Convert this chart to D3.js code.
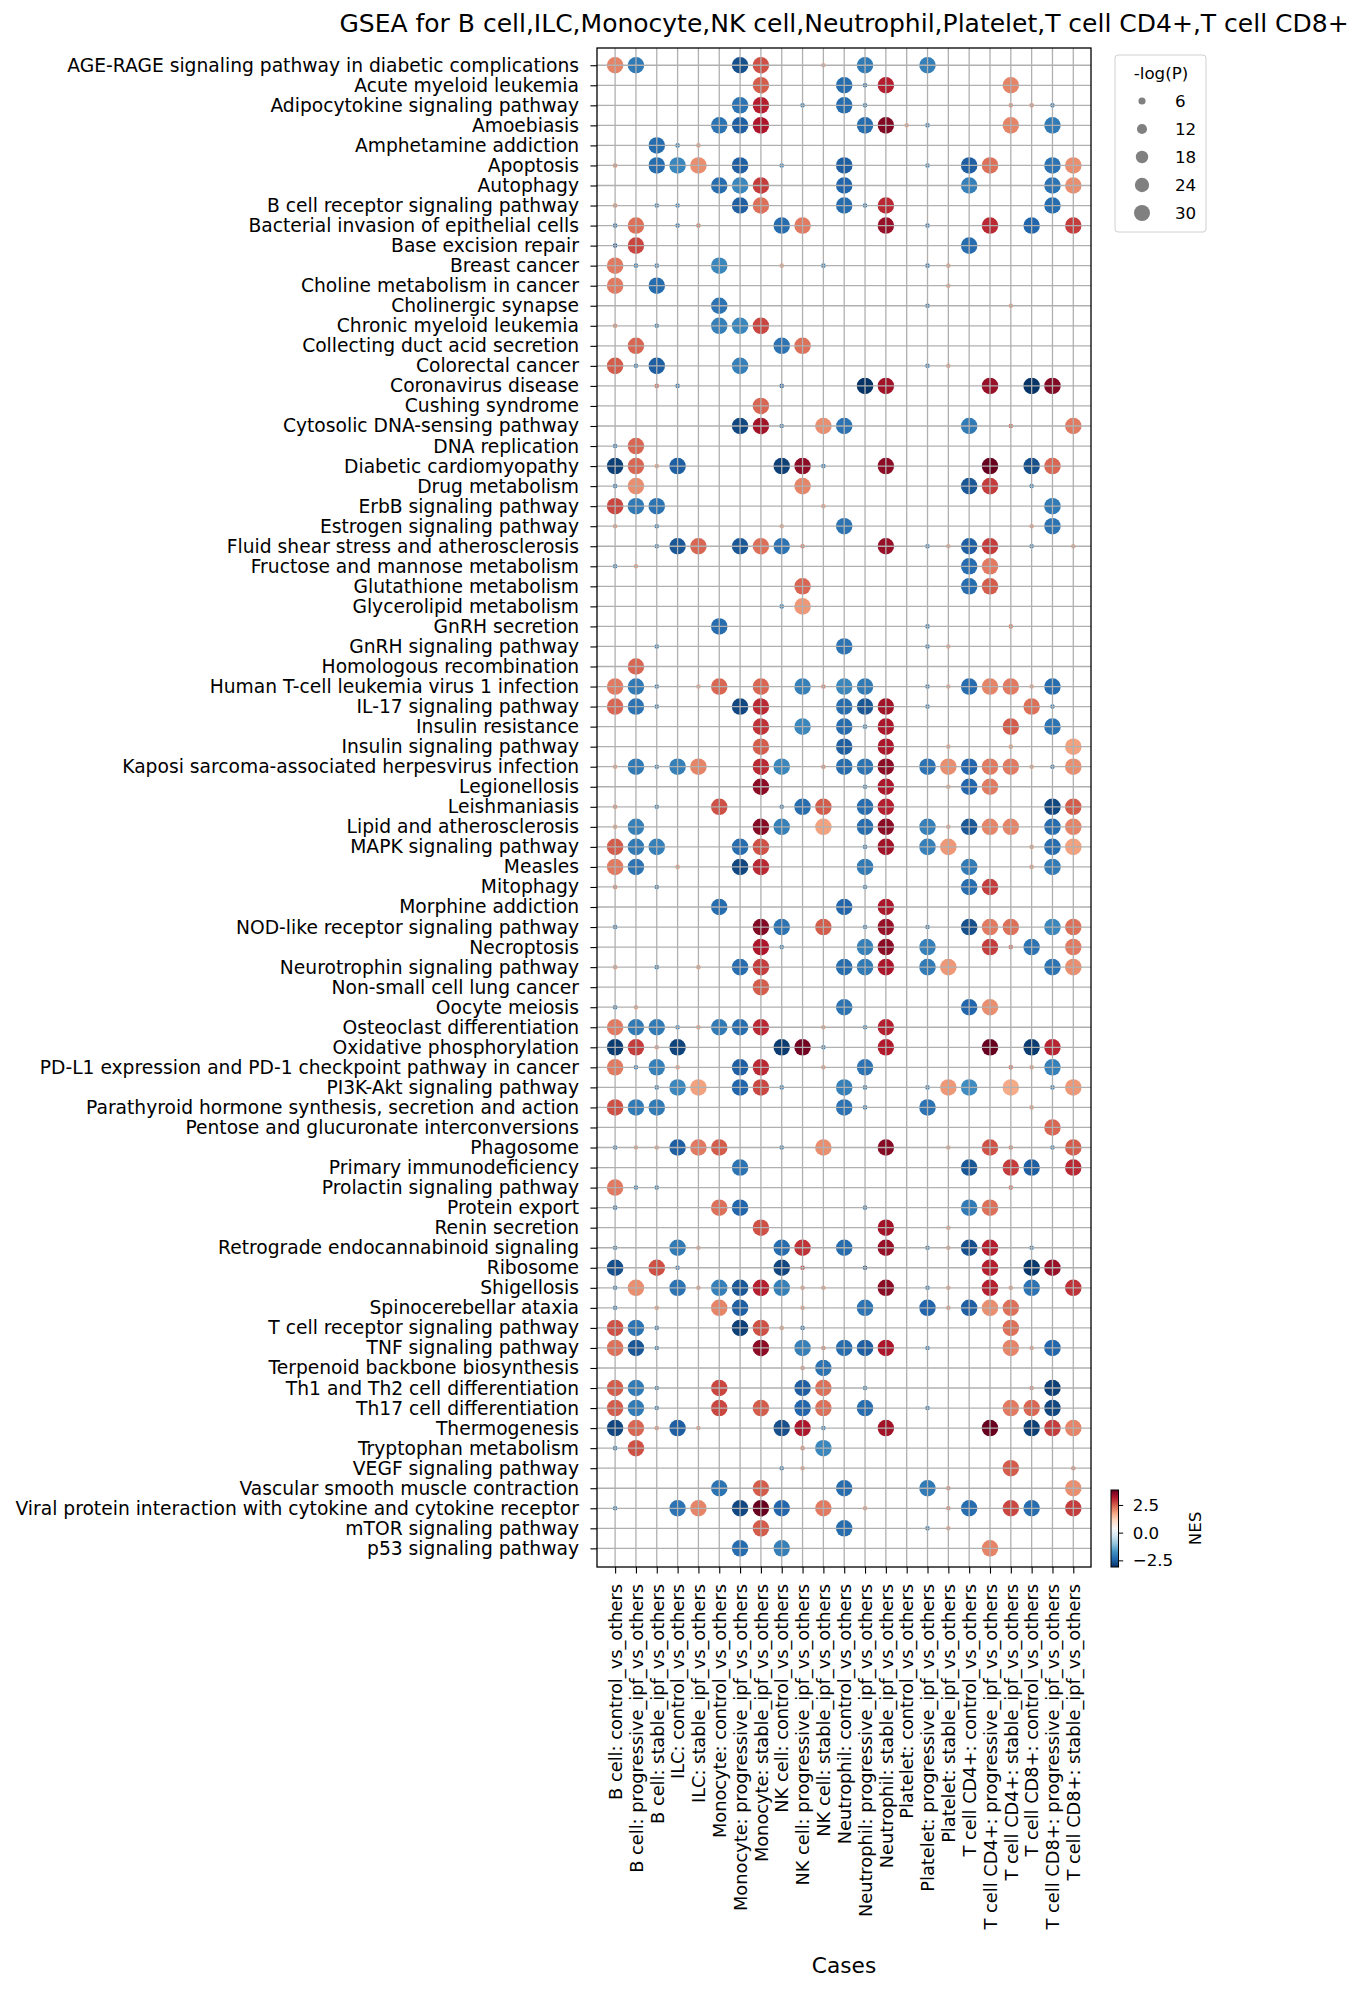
<!DOCTYPE html>
<html>
<head>
<meta charset="utf-8">
<script src="https://cdn.jsdelivr.net/npm/d3@7"></script>
<style>
  body { margin: 0; background: #fff; }
  text { font-family: "DejaVu Sans", sans-serif; fill: #000; }
</style>
</head>
<body>
<div id="chart"></div>
<script>
// row categories (top to bottom)
const pathways = [
  "AGE-RAGE signaling pathway in diabetic complications", "Acute myeloid leukemia",
  "Adipocytokine signaling pathway", "Amoebiasis", "Amphetamine addiction", "Apoptosis",
  "Autophagy", "B cell receptor signaling pathway", "Bacterial invasion of epithelial cells",
  "Base excision repair", "Breast cancer", "Choline metabolism in cancer", "Cholinergic synapse",
  "Chronic myeloid leukemia", "Collecting duct acid secretion", "Colorectal cancer",
  "Coronavirus disease", "Cushing syndrome", "Cytosolic DNA-sensing pathway", "DNA replication",
  "Diabetic cardiomyopathy", "Drug metabolism", "ErbB signaling pathway", "Estrogen signaling pathway",
  "Fluid shear stress and atherosclerosis", "Fructose and mannose metabolism",
  "Glutathione metabolism", "Glycerolipid metabolism", "GnRH secretion", "GnRH signaling pathway",
  "Homologous recombination", "Human T-cell leukemia virus 1 infection", "IL-17 signaling pathway",
  "Insulin resistance", "Insulin signaling pathway", "Kaposi sarcoma-associated herpesvirus infection",
  "Legionellosis", "Leishmaniasis", "Lipid and atherosclerosis", "MAPK signaling pathway", "Measles",
  "Mitophagy", "Morphine addiction", "NOD-like receptor signaling pathway", "Necroptosis",
  "Neurotrophin signaling pathway", "Non-small cell lung cancer", "Oocyte meiosis",
  "Osteoclast differentiation", "Oxidative phosphorylation",
  "PD-L1 expression and PD-1 checkpoint pathway in cancer", "PI3K-Akt signaling pathway",
  "Parathyroid hormone synthesis, secretion and action", "Pentose and glucuronate interconversions",
  "Phagosome", "Primary immunodeficiency", "Prolactin signaling pathway", "Protein export",
  "Renin secretion", "Retrograde endocannabinoid signaling", "Ribosome", "Shigellosis",
  "Spinocerebellar ataxia", "T cell receptor signaling pathway", "TNF signaling pathway",
  "Terpenoid backbone biosynthesis", "Th1 and Th2 cell differentiation", "Th17 cell differentiation",
  "Thermogenesis", "Tryptophan metabolism", "VEGF signaling pathway",
  "Vascular smooth muscle contraction",
  "Viral protein interaction with cytokine and cytokine receptor", "mTOR signaling pathway",
  "p53 signaling pathway"
];

// column categories (left to right)
const cases = [
  "B cell: control_vs_others", "B cell: progressive_ipf_vs_others", "B cell: stable_ipf_vs_others",
  "ILC: control_vs_others", "ILC: stable_ipf_vs_others", "Monocyte: control_vs_others",
  "Monocyte: progressive_ipf_vs_others", "Monocyte: stable_ipf_vs_others", "NK cell: control_vs_others",
  "NK cell: progressive_ipf_vs_others", "NK cell: stable_ipf_vs_others", "Neutrophil: control_vs_others",
  "Neutrophil: progressive_ipf_vs_others", "Neutrophil: stable_ipf_vs_others",
  "Platelet: control_vs_others", "Platelet: progressive_ipf_vs_others", "Platelet: stable_ipf_vs_others",
  "T cell CD4+: control_vs_others", "T cell CD4+: progressive_ipf_vs_others",
  "T cell CD4+: stable_ipf_vs_others", "T cell CD8+: control_vs_others",
  "T cell CD8+: progressive_ipf_vs_others", "T cell CD8+: stable_ipf_vs_others"
];

// per pathway: [case number (1-based), NES, -log(P)]
const gseaRows = [
  [[1,2.1,32],[2,-2.1,32],[7,-2.7,32],[8,2.6,32],[11,1.7,2.5],[13,-2.1,32],[16,-2.0,32]],
  [[8,2.5,32],[12,-2.3,32],[13,-2.2,2.5],[14,3.1,32],[20,2.1,32]],
  [[7,-2.2,32],[8,3.1,32],[10,-2.0,2.5],[12,-2.3,32],[13,-1.9,2.5],[20,2.0,2.5],[21,2.0,2.5],[22,-2.1,2.5]],
  [[6,-2.2,32],[7,-2.5,32],[8,3.2,32],[13,-2.3,32],[14,3.6,32],[15,1.7,2.5],[16,-2.1,2.5],[20,2.1,32],[22,-2.1,32]],
  [[3,-2.3,32],[4,-2.0,2.5],[5,1.8,2.5]],
  [[1,2.0,2.5],[3,-2.3,32],[4,-1.9,32],[5,2.0,32],[7,-2.5,32],[9,-1.9,2.5],[12,-2.5,32],[16,-1.9,2.5],[18,-2.5,32],[19,2.3,32],[22,-2.2,32],[23,2.0,32]],
  [[6,-2.3,32],[7,-1.9,32],[8,2.8,32],[12,-2.4,32],[18,-2.0,32],[22,-2.2,32],[23,2.0,32]],
  [[1,2.0,2.5],[3,-2.0,2.5],[4,-1.9,2.5],[7,-2.5,32],[8,2.3,32],[12,-2.3,32],[13,-2.0,2.5],[14,3.0,32],[22,-2.3,32]],
  [[1,-2.2,2.5],[2,2.3,32],[4,-2.1,2.5],[5,2.2,2.5],[9,-2.3,32],[10,2.2,32],[14,3.4,32],[16,-2.1,2.5],[19,3.0,32],[21,-2.4,32],[23,2.8,32]],
  [[1,-2.5,2.5],[2,2.7,32],[18,-2.3,32]],
  [[1,2.2,32],[2,-2.0,2.5],[3,-2.0,2.5],[6,-1.9,32],[9,1.7,2.5],[11,-1.9,2.5],[16,-2.1,2.5],[17,1.7,2.5]],
  [[1,2.2,32],[3,-2.3,32],[17,1.7,2.5]],
  [[6,-2.2,32],[16,-2.1,2.5],[20,1.8,2.5]],
  [[1,2.0,2.5],[3,-2.0,2.5],[6,-2.0,32],[7,-1.9,32],[8,2.7,32]],
  [[2,2.4,32],[9,-2.2,32],[10,2.3,32]],
  [[1,2.5,32],[2,-2.0,2.5],[3,-2.5,32],[7,-2.0,32],[16,-2.0,2.5],[17,1.7,2.5]],
  [[3,2.3,2.5],[4,-2.1,2.5],[9,-2.4,2.5],[13,-3.05,32],[14,3.3,32],[19,3.4,32],[21,-3.05,32],[22,3.6,32]],
  [[8,2.4,32]],
  [[7,-2.8,32],[8,3.3,32],[9,-2.1,2.5],[11,2.0,32],[12,-2.2,32],[18,-2.1,32],[20,2.4,2.5],[23,2.2,32]],
  [[1,-2.1,2.5],[2,2.4,32]],
  [[1,-2.9,32],[2,2.4,32],[3,1.8,2.5],[4,-2.5,32],[9,-2.9,32],[10,3.5,32],[11,-2.0,2.5],[14,3.5,32],[19,3.85,32],[21,-2.7,32],[22,2.4,32]],
  [[1,-2.1,2.5],[2,2.0,32],[10,2.1,32],[18,-2.6,32],[19,2.8,32],[21,-2.0,2.5]],
  [[1,2.7,32],[2,-2.1,32],[3,-2.2,32],[11,1.7,2.5],[22,-2.1,32]],
  [[1,1.8,2.5],[3,-2.0,2.5],[9,1.7,2.5],[12,-2.2,32],[21,1.8,2.5],[22,-2.2,32]],
  [[3,-2.0,2.5],[4,-2.6,32],[5,2.4,32],[7,-2.6,32],[8,2.3,32],[9,-2.2,32],[10,2.2,2.5],[14,3.4,32],[16,-2.0,2.5],[17,1.7,2.5],[18,-2.5,32],[19,2.8,32],[21,-2.0,2.5],[23,1.8,2.5]],
  [[1,-2.0,2.5],[2,1.8,2.5],[18,-2.3,32],[19,2.2,32]],
  [[10,2.4,32],[18,-2.3,32],[19,2.5,32]],
  [[9,-2.0,2.5],[10,1.9,32]],
  [[6,-2.3,32],[16,-2.0,2.5],[20,2.1,2.5]],
  [[3,-2.0,2.5],[12,-2.2,32],[16,-2.0,2.5],[17,1.7,2.5]],
  [[2,2.4,32]],
  [[1,2.2,32],[2,-2.1,32],[3,-2.0,2.5],[5,1.7,2.5],[6,2.4,32],[8,2.4,32],[10,-2.0,32],[11,2.1,2.5],[12,-1.9,32],[13,-2.1,32],[16,-2.0,2.5],[17,1.7,2.5],[18,-2.3,32],[19,2.1,32],[20,2.2,32],[21,1.8,2.5],[22,-2.3,32]],
  [[1,2.4,32],[2,-2.2,32],[3,-2.0,2.5],[7,-2.8,32],[8,3.0,32],[12,-2.3,32],[13,-2.6,32],[14,3.3,32],[16,-2.0,2.5],[21,2.3,32],[22,-2.0,2.5]],
  [[8,2.9,32],[10,-1.9,32],[12,-2.3,32],[13,-2.0,2.5],[14,3.2,32],[20,2.5,32],[22,-2.2,32]],
  [[8,2.5,32],[12,-2.5,32],[14,3.2,32],[17,1.7,2.5],[20,1.8,2.5],[23,1.8,32]],
  [[1,1.8,2.5],[2,-2.1,32],[3,-2.0,2.5],[4,-2.0,32],[5,2.1,32],[8,3.0,32],[9,-1.9,32],[11,2.0,2.5],[12,-2.3,32],[13,-2.2,32],[14,3.5,32],[16,-2.2,32],[17,2.0,32],[18,-2.4,32],[19,2.2,32],[20,2.2,32],[21,1.8,2.5],[22,-2.1,2.5],[23,2.0,32]],
  [[8,3.5,32],[13,-2.0,2.5],[14,3.2,32],[17,1.7,2.5],[18,-2.4,32],[19,2.2,32]],
  [[1,2.0,2.5],[3,-2.0,2.5],[6,2.6,32],[9,-2.1,2.5],[10,-2.3,32],[11,2.5,32],[13,-2.3,32],[14,3.1,32],[22,-2.8,32],[23,2.5,32]],
  [[1,1.8,2.5],[2,-2.0,32],[8,3.55,32],[9,-2.0,32],[11,1.8,32],[13,-2.3,32],[14,3.5,32],[16,-2.0,32],[17,1.7,2.5],[18,-2.6,32],[19,2.1,32],[20,2.1,32],[22,-2.3,32],[23,2.1,32]],
  [[1,2.5,32],[2,-2.1,32],[3,-2.0,32],[7,-2.3,32],[8,2.6,32],[13,-2.0,2.5],[14,3.3,32],[16,-2.0,32],[17,1.9,32],[21,1.8,2.5],[22,-2.3,32],[23,1.8,32]],
  [[1,2.2,32],[2,-2.2,32],[4,1.8,2.5],[7,-2.8,32],[8,3.0,32],[13,-2.1,32],[18,-2.1,32],[21,1.8,2.5],[22,-2.1,32]],
  [[1,2.1,2.5],[3,-2.0,2.5],[13,-2.0,2.5],[18,-2.3,32],[19,2.8,32]],
  [[6,-2.3,32],[12,-2.4,32],[14,3.2,32]],
  [[1,-2.1,2.5],[8,3.6,32],[9,-2.2,32],[11,2.5,32],[13,-2.0,2.5],[14,3.4,32],[16,-2.0,2.5],[18,-2.7,32],[19,2.2,32],[20,2.3,32],[22,-1.9,32],[23,2.3,32]],
  [[8,3.2,32],[9,-2.0,2.5],[13,-2.0,32],[14,3.5,32],[16,-2.0,32],[19,2.8,32],[20,2.3,2.5],[21,-2.2,32],[23,2.2,32]],
  [[1,1.8,2.5],[3,-2.0,2.5],[5,1.8,2.5],[7,-2.3,32],[8,2.8,32],[12,-2.3,32],[13,-2.1,32],[14,3.2,32],[16,-2.1,32],[17,1.9,32],[22,-2.2,32],[23,2.0,32]],
  [[8,2.5,32]],
  [[1,-2.0,2.5],[2,1.8,2.5],[12,-2.2,32],[18,-2.4,32],[19,2.0,32]],
  [[1,2.2,32],[2,-2.1,32],[3,-2.1,32],[4,-2.0,2.5],[5,1.8,2.5],[6,-2.1,32],[7,-2.3,32],[8,3.0,32],[11,1.8,2.5],[13,-2.0,2.5],[14,3.1,32]],
  [[1,-2.95,32],[2,2.8,32],[3,1.9,2.5],[4,-2.85,32],[9,-2.95,32],[10,3.75,32],[11,-2.0,2.5],[14,3.15,32],[19,3.85,32],[21,-2.95,32],[22,3.05,32]],
  [[1,2.2,32],[2,-2.0,2.5],[3,-2.0,32],[4,1.8,2.5],[7,-2.5,32],[8,3.0,32],[11,1.8,2.5],[13,-2.2,32],[20,2.3,2.5],[21,1.8,2.5],[22,-2.0,32]],
  [[3,-2.0,2.5],[4,-1.9,32],[5,1.8,32],[7,-2.4,32],[8,2.7,32],[9,-2.0,2.5],[12,-2.0,32],[13,-2.0,2.5],[16,-2.0,2.5],[17,1.9,32],[18,-1.8,32],[20,1.7,32],[22,-2.0,2.5],[23,1.9,32]],
  [[1,2.6,32],[2,-2.1,32],[3,-2.1,32],[12,-2.2,32],[13,-2.0,2.5],[16,-2.2,32],[21,1.8,2.5]],
  [[22,2.4,32]],
  [[1,-2.0,2.5],[2,1.8,2.5],[3,1.8,2.5],[4,-2.5,32],[5,2.2,32],[6,2.5,32],[9,-2.0,2.5],[11,2.0,32],[14,3.55,32],[17,1.7,2.5],[19,2.6,32],[20,2.1,2.5],[22,-2.0,2.5],[23,2.5,32]],
  [[7,-2.2,32],[18,-2.6,32],[20,2.8,32],[21,-2.5,32],[23,3.0,32]],
  [[1,2.2,32],[2,-2.0,2.5],[3,-2.0,2.5],[20,2.3,2.5]],
  [[1,-2.1,2.5],[6,2.3,32],[7,-2.4,32],[13,-2.0,2.5],[18,-2.1,32],[19,2.3,32]],
  [[8,2.6,32],[14,3.3,32],[17,1.7,2.5]],
  [[1,-2.0,2.5],[4,-2.1,32],[5,1.7,2.5],[9,-2.3,32],[10,2.9,32],[12,-2.3,32],[14,3.4,32],[16,-2.0,2.5],[17,1.7,2.5],[18,-2.7,32],[19,3.1,32],[21,-2.0,2.5]],
  [[1,-2.7,32],[3,2.6,32],[4,-2.2,2.5],[9,-2.8,32],[10,2.8,2.5],[13,-2.7,2.5],[19,3.1,32],[21,-3.0,32],[22,3.4,32]],
  [[1,-2.0,2.5],[2,2.0,32],[4,-2.2,32],[5,1.8,2.5],[6,-2.0,32],[7,-2.6,32],[8,3.1,32],[9,-2.0,32],[10,1.8,2.5],[11,1.8,2.5],[14,3.5,32],[16,-2.0,2.5],[17,1.7,2.5],[19,3.1,32],[20,1.8,2.5],[21,-2.2,32],[23,2.9,32]],
  [[1,-2.0,2.5],[3,1.8,2.5],[6,2.1,32],[7,-2.5,32],[10,1.8,2.5],[13,-2.2,32],[16,-2.4,32],[17,1.8,2.5],[18,-2.5,32],[19,2.0,32],[20,2.3,32]],
  [[1,2.6,32],[2,-2.2,32],[3,-2.0,2.5],[7,-2.9,32],[8,2.6,32],[9,1.8,2.5],[10,-2.0,2.5],[20,2.3,32]],
  [[1,2.3,32],[2,-2.6,32],[3,-2.0,2.5],[8,3.5,32],[10,-2.0,32],[11,2.0,2.5],[12,-2.3,32],[13,-2.5,32],[14,3.2,32],[16,-2.0,2.5],[20,2.1,32],[21,1.8,2.5],[22,-2.4,32]],
  [[10,1.9,2.5],[11,-2.2,32]],
  [[1,2.5,32],[2,-2.1,32],[3,-2.0,2.5],[6,2.7,32],[10,-2.5,32],[11,2.3,32],[13,-2.0,2.5],[21,2.0,2.5],[22,-2.9,32]],
  [[1,2.5,32],[2,-2.1,32],[3,-2.0,2.5],[6,2.7,32],[8,2.5,32],[10,-2.4,32],[11,2.3,32],[13,-2.3,32],[16,-2.0,2.5],[20,2.2,32],[21,2.4,32],[22,-2.8,32]],
  [[1,-2.8,32],[2,2.4,32],[3,1.9,2.5],[4,-2.5,32],[5,1.8,2.5],[9,-2.7,32],[10,3.2,32],[11,-2.0,2.5],[14,3.3,32],[19,3.85,32],[21,-2.9,32],[22,2.8,32],[23,2.1,32]],
  [[1,-2.0,2.5],[2,2.6,32],[10,2.0,2.5],[11,-1.9,32]],
  [[9,-2.0,2.5],[10,1.8,2.5],[20,2.5,32],[23,2.0,2.5]],
  [[6,-2.2,32],[8,2.5,32],[12,-2.3,32],[16,-2.1,32],[17,2.0,2.5],[23,2.0,32]],
  [[1,-2.0,2.5],[4,-2.2,32],[5,2.1,32],[7,-2.8,32],[8,3.85,32],[9,-2.4,32],[11,2.2,32],[13,1.8,2.5],[17,2.0,2.5],[18,-2.3,32],[20,2.7,32],[21,-2.3,32],[23,2.8,32]],
  [[8,2.5,32],[12,-2.3,32],[16,-2.0,2.5],[17,1.7,2.5]],
  [[7,-2.3,32],[9,-2.0,32],[19,2.1,32]]
];

const legendSizes = [6, 12, 18, 24, 30];
const nesTicks = [-2.5, 0, 2.5];
const nesMin = -3.1, nesMax = 3.85;

const W = 1365, H = 1993;
const box = { left: 597, right: 1091, top: 48, bottom: 1567 };

const svg = d3.select("#chart").append("svg")
  .attr("width", W).attr("height", H)
  .style("background", "#fff");

// RdBu_r
const rdbu = ["#053061","#2166ac","#4393c3","#92c5de","#d1e5f0","#f7f7f7",
              "#fddbc7","#f4a582","#d6604d","#b2182b","#67001f"];
const color = d3.scaleLinear()
  .domain(d3.range(11).map(i => nesMin + (nesMax - nesMin) * i / 10))
  .range(rdbu)
  .interpolate(d3.interpolateRgb)
  .clamp(true);

const size = d3.scaleSqrt().domain([0, 30]).range([0, 8]);

const x = d3.scaleLinear().domain([-0.87, 22.85]).range([box.left, box.right]);
const y = d3.scaleLinear().domain([-0.86, 74.93]).range([box.top, box.bottom]);

// flatten rows to points
const points = [];
gseaRows.forEach((row, i) => {
  row.forEach(([c, nes, lp]) => points.push({ row: i, col: c - 1, nes, lp }));
});

// dots
svg.append("g")
  .selectAll("circle")
  .data(points)
  .enter()
  .append("circle")
  .attr("cx", d => x(d.col))
  .attr("cy", d => y(d.row))
  .attr("r", d => size(d.lp))
  .attr("fill", d => color(d.nes));

// grid on top
const grid = svg.append("g").attr("stroke", "#b0b0b0").attr("stroke-width", 1.3);
grid.selectAll(".gx").data(d3.range(cases.length)).enter().append("line")
  .attr("x1", d => x(d)).attr("x2", d => x(d))
  .attr("y1", box.top).attr("y2", box.bottom);
grid.selectAll(".gy").data(d3.range(pathways.length)).enter().append("line")
  .attr("x1", box.left).attr("x2", box.right)
  .attr("y1", d => y(d)).attr("y2", d => y(d));

// axes
const yAxis = svg.append("g")
  .attr("transform", "translate(" + box.left + ",0)")
  .call(d3.axisLeft(y).tickValues(d3.range(pathways.length))
    .tickFormat(i => pathways[i]).tickSize(6.6).tickPadding(11.4));
yAxis.select(".domain").remove();
yAxis.selectAll("line").attr("stroke-width", 1.1);
yAxis.selectAll("text").style("font-size", "18.7px").style("font-family", "DejaVu Sans");

const xAxis = svg.append("g")
  .attr("transform", "translate(0," + box.bottom + ")")
  .call(d3.axisBottom(x).tickValues(d3.range(cases.length))
    .tickFormat(i => cases[i]).tickSize(6.6));
xAxis.select(".domain").remove();
xAxis.selectAll("line").attr("stroke-width", 1.1);
xAxis.selectAll("text")
  .attr("transform", "rotate(-90)")
  .attr("x", -17)
  .attr("y", 0)
  .attr("dy", "0.35em")
  .style("text-anchor", "end")
  .style("font-size", "17.8px")
  .style("font-family", "DejaVu Sans");

// frame
svg.append("rect")
  .attr("x", box.left).attr("y", box.top)
  .attr("width", box.right - box.left).attr("height", box.bottom - box.top)
  .attr("fill", "none").attr("stroke", "#000").attr("stroke-width", 1.3);

// title and axis label
svg.append("text")
  .attr("x", (box.left + box.right) / 2).attr("y", 32)
  .attr("text-anchor", "middle").style("font-size", "25px")
  .text("GSEA for B cell,ILC,Monocyte,NK cell,Neutrophil,Platelet,T cell CD4+,T cell CD8+");

svg.append("text")
  .attr("x", (box.left + box.right) / 2).attr("y", 1973)
  .attr("text-anchor", "middle").style("font-size", "21.7px")
  .text("Cases");

// size legend
const leg = svg.append("g");
leg.append("rect")
  .attr("x", 1115).attr("y", 55).attr("width", 91).attr("height", 177)
  .attr("rx", 3).attr("fill", "#fff").attr("stroke", "#d0d0d0");
leg.append("text")
  .attr("x", 1161).attr("y", 79).attr("text-anchor", "middle")
  .style("font-size", "16.7px").text("-log(P)");
legendSizes.forEach((v, i) => {
  const cy = 101 + i * 28;
  leg.append("circle").attr("cx", 1142).attr("cy", cy)
    .attr("r", size(v)).attr("fill", "#808080");
  leg.append("text").attr("x", 1175).attr("y", cy).attr("dy", "0.35em")
    .style("font-size", "16.7px").text(v);
});

// colorbar
const cb = { x: 1111, y: 1490, w: 7.5, h: 77 };
const grad = svg.append("defs").append("linearGradient")
  .attr("id", "nesgrad").attr("x1", 0).attr("y1", 1).attr("x2", 0).attr("y2", 0);
rdbu.forEach((c, i) => {
  grad.append("stop").attr("offset", (i / 10 * 100) + "%").attr("stop-color", c);
});
svg.append("rect")
  .attr("x", cb.x).attr("y", cb.y).attr("width", cb.w).attr("height", cb.h)
  .attr("fill", "url(#nesgrad)").attr("stroke", "#000").attr("stroke-width", 1);
const cbScale = d3.scaleLinear().domain([nesMin, nesMax]).range([cb.y + cb.h, cb.y]);
const cbAxis = svg.append("g")
  .attr("transform", "translate(" + (cb.x + cb.w) + ",0)")
  .call(d3.axisRight(cbScale).tickValues(nesTicks)
    .tickFormat(d => d3.format(".1f")(d).replace("-", "\u2212"))
    .tickSize(4.7).tickPadding(9.5));
cbAxis.select(".domain").remove();
cbAxis.selectAll("text").style("font-size", "16.7px").style("font-family", "DejaVu Sans");
svg.append("text")
  .attr("transform", "translate(1201," + (cb.y + cb.h / 2) + ") rotate(-90)")
  .attr("text-anchor", "middle").style("font-size", "16.7px")
  .text("NES");
</script>
</body>
</html>
